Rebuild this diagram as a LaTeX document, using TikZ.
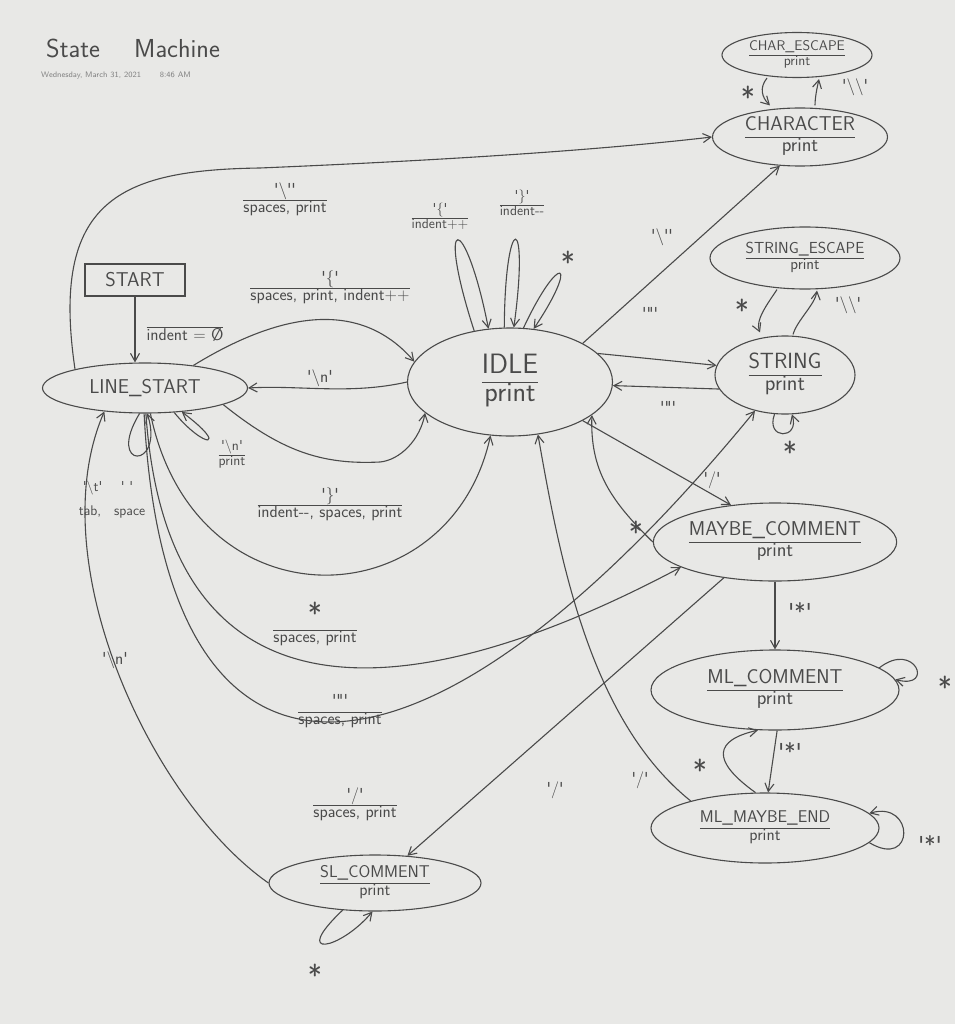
\documentclass[tikz,border=0pt]{standalone}
\usetikzlibrary{shapes.geometric,arrows.meta}
\definecolor{ink}{HTML}{4A4A4A}
\definecolor{paper}{HTML}{E8E8E6}
\newcommand\qq[1]{\textquotesingle#1\textquotesingle}
\newcommand\lbl[2]{\begin{tabular}{@{}c@{}}#1\\\hline #2\end{tabular}}
\newcommand\st[1]{\begin{tabular}{@{}c@{}}#1\\\hline print\end{tabular}}
\newcommand\sx{{\fontsize{30}{30}\selectfont *}}
\newcommand\fs[1]{\fontsize{#1}{#1}\selectfont}
\tikzset{
  state/.style={draw=ink,ellipse,line width=1.1pt,text=ink,inner sep=0pt,font=\sffamily\fs{20}},
  arr/.style={-{Straight Barb[length=8pt,width=9pt]},draw=ink,line width=1.1pt},
  tx/.style={text=ink,font=\sffamily\fs{17},inner sep=1pt},
  sm/.style={text=ink,font=\sffamily\fs{14},inner sep=1pt}
}
\begin{document}
\begin{tikzpicture}[x=1pt,y=-1pt]
\fill[paper] (0,0) rectangle (955,1024);
\useasboundingbox (0,0) rectangle (955,1024);
% title
\node[tx,font=\sffamily\fs{26},anchor=west] (title) at (45,48) {State \quad Machine};
\node[tx,font=\sffamily\fs{8},text=gray,anchor=west] (date) at (40,76) {Wednesday, March 31, 2021 \qquad 8:46 AM};
% states
\node[state,minimum width=150,minimum height=45,font=\sffamily\fs{14}] (ce) at (797,55) {\st{CHAR\_ESCAPE}};
\node[state,minimum width=175,minimum height=58] (ch) at (800,137) {\st{CHARACTER}};
\node[state,minimum width=190,minimum height=62,font=\sffamily\fs{16}] (se) at (805,258) {\st{STRING\_ESCAPE}};
\node[state,minimum width=140,minimum height=78,font=\sffamily\fs{22}] (str) at (785,375) {\st{STRING}};
\node[state,minimum width=205,minimum height=108,font=\sffamily\fs{28}] (idle) at (510,382) {\st{IDLE}};
\node[state,minimum width=205,minimum height=50] (ls) at (145,388) {LINE\_START};
\node[draw=ink,line width=1.1pt,text=ink,font=\sffamily\fs{20},minimum width=100,minimum height=32] (start) at (135,280) {START};
\node[state,minimum width=232,minimum height=78] (mc) at (775,542) {\st{MAYBE\_COMMENT}};
\node[state,minimum width=248,minimum height=80] (mlc) at (775,690) {\st{ML\_COMMENT}};
\node[state,minimum width=228,minimum height=70,font=\sffamily\fs{17}] (mme) at (765,828) {\st{ML\_MAYBE\_END}};
\node[state,minimum width=212,minimum height=56,font=\sffamily\fs{17}] (sl) at (375,883) {\st{SL\_COMMENT}};
% START
\draw[arr] (start) -- (ls.north -| start);
\node[tx] (l0) at (185,328) {\lbl{}{indent = \O}};
% top curve to CHARACTER
\draw[arr] (ls.165) .. controls (50,200) and (120,170) .. (260,168) .. controls (450,160) and (600,150) .. (ch.west);
\node[tx] (l1) at (285,200) {\lbl{\qq{\textbackslash\textquotesingle}}{spaces, print}};
% LINE_START <-> IDLE
\draw[arr] (ls.25) .. controls (300,300) and (370,310) .. (idle.168);
\node[tx] (l2) at (330,288) {\lbl{\qq{\{}}{spaces, print, indent++}};
\draw[arr] (idle.west) .. controls (350,395) and (300,385) .. (ls.east);
\node[tx] (l3) at (320,378) {\qq{\textbackslash n}};
\draw[arr] (ls.-12) .. controls (280,450) and (320,465) .. (380,462) .. controls (400,460) and (420,440) .. (idle.200);
\draw[arr] (ls.-40) .. controls (205,450) and (230,448) .. (ls.-33);
\node[sm] (l4) at (232,455) {\lbl{\qq{\textbackslash n}}{print}};
\draw[arr] (ls.-78) .. controls (195,630) and (450,620) .. (idle.250);
\node[tx] (l5) at (330,505) {\lbl{\qq{\}}}{indent-{}-, spaces, print}};
% tab/space loop
\draw[arr] (ls.-102) .. controls (105,470) and (165,470) .. (ls.-85);
\node[sm] (l6) at (108,488) {\qq{\textbackslash t} \quad \qq{\ }};
\node[sm] (l7) at (112,512) {tab, \; space};
% long curves
\draw[arr] (ls.-88) .. controls (170,760) and (450,690) .. (mc.195);
\node[tx] (l8) at (315,625) {\lbl{\sx}{spaces, print}};
\draw[arr] (ls.-92) .. controls (165,830) and (420,820) .. (str.230);
\node[tx] (l9) at (340,712) {\lbl{\qq{\textquotedbl}}{spaces, print}};
\node[tx] (l10) at (355,805) {\lbl{\qq{/}}{spaces, print}};
\draw[arr] (sl.west) .. controls (150,800) and (40,560) .. (ls.-150);
\node[tx] (l11) at (115,660) {\qq{\textbackslash n}};
\draw[arr] (sl.-140) .. controls (290,960) and (340,950) .. (sl.-95);
\node[tx] (l12) at (315,975) {\sx};
% IDLE self-loops
\draw[arr] (idle.125) .. controls (435,210) and (465,210) .. (idle.112);
\node[sm] (l13) at (440,218) {\lbl{\qq{\{}}{indent++}};
\draw[arr] (idle.96) .. controls (505,210) and (530,210) .. (idle.86);
\node[sm] (l14) at (522,205) {\lbl{\qq{\}}}{indent-{}-}};
\draw[arr] (idle.76) .. controls (560,250) and (580,260) .. (idle.66);
\node[tx] (l15) at (568,262) {\sx};
% IDLE to right side
\draw[arr] (idle.28) -- (ch.235);
\node[tx] (l16) at (662,237) {\qq{\textbackslash\textquotesingle}};
\draw[arr] (idle.18) -- (str.172);
\node[tx] (l17) at (650,313) {\qq{\textquotedbl}};
\draw[arr] (str.192) -- (idle.-2);
\node[tx] (l18) at (668,407) {\qq{\textquotedbl}};
\draw[arr] (idle.-28) -- (mc.140);
\node[tx] (l19) at (712,480) {\qq{/}};
\draw[arr] (mc.west) .. controls (610,500) and (590,470) .. (idle.-22);
\node[tx] (l20) at (636,532) {\sx};
\draw[arr] (mc.215) -- (sl.40);
\node[tx] (l21) at (555,790) {\qq{/}};
\draw[arr] (mme.160) .. controls (590,720) and (560,560) .. (idle.-62);
\node[tx] (l22) at (640,780) {\qq{/}};
% escapes
\draw[arr] ([xshift=-30pt]ce.south) .. controls ([xshift=-38pt,yshift=-10pt]ce.south) and ([xshift=-38pt,yshift=10pt]ch.north) .. ([xshift=-30pt,yshift=2pt]ch.north);
\node[tx] (l23) at (748,97) {\sx};
\draw[arr] ([xshift=15pt,yshift=2pt]ch.north) .. controls ([xshift=15pt,yshift=10pt]ch.north) and ([xshift=20pt,yshift=-10pt]ce.south) .. ([xshift=22pt,yshift=-1pt]ce.south);
\node[tx] (l24) at (855,87) {\qq{\textbackslash\textbackslash}};
\draw[arr] ([xshift=-28pt]se.south) .. controls ([xshift=-38pt,yshift=-15pt]se.south) and ([xshift=-30pt,yshift=15pt]str.north) .. ([xshift=-25pt,yshift=3pt]str.north);
\node[tx] (l25) at (742,310) {\sx};
\draw[arr] ([xshift=8pt,yshift=1pt]str.north) .. controls ([xshift=12pt,yshift=15pt]str.north) and ([xshift=10pt,yshift=-15pt]se.south) .. ([xshift=12pt,yshift=-1pt]se.south);
\node[tx] (l26) at (848,305) {\qq{\textbackslash\textbackslash}};
\draw[arr] (str.-105) .. controls (765,440) and (800,440) .. (str.-80);
\node[tx] (l27) at (790,452) {\sx};
% comments
\draw[arr] (mc.south) -- (mlc.north);
\node[tx,font=\sffamily\fs{24}] (l28) at (800,612) {\qq{*}};
\draw[arr] (mlc.12) .. controls (915,640) and (935,690) .. (mlc.5);
\node[tx] (l29) at (945,687) {\sx};
\draw[arr] (mlc.-87) -- (mme.85);
\node[tx,font=\sffamily\fs{24}] (l30) at (790,752) {\qq{*}};
\draw[arr] (mme.105) .. controls (710,760) and (715,740) .. (mlc.-113);
\node[tx] (l31) at (700,770) {\sx};
\draw[arr] (mme.-8) .. controls (915,870) and (915,800) .. (mme.8);
\node[tx,font=\sffamily\fs{24}] (l32) at (930,845) {\qq{*}};
\end{tikzpicture}
\end{document}
